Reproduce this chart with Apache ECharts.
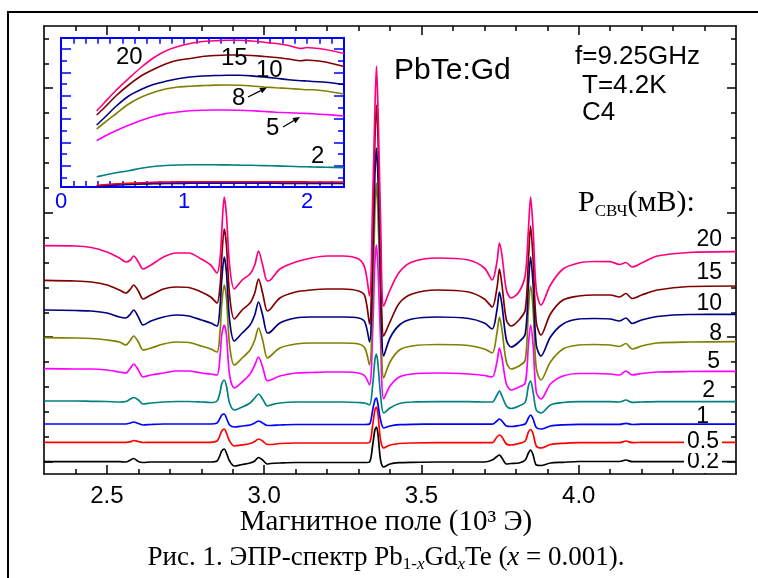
<!DOCTYPE html>
<html><head><meta charset="utf-8">
<script src="https://cdn.jsdelivr.net/npm/echarts@6.0.0/dist/echarts.min.js"></script>
<style>html,body{margin:0;padding:0;background:#fff}#c{width:758px;height:578px}</style>
</head><body><div id="c"></div>
<script>
// ---- main spectra: magnetic field (10^3 Oe) and signal (arb. units) ----
const fieldKOe = [2.30, 2.40, 2.45, 2.50, 2.54, 2.56, 2.575, 2.585, 2.60, 2.615,
  2.64, 2.68, 2.72, 2.76, 2.80, 2.83, 2.85, 2.86, 2.865, 2.873,
  2.88, 2.89, 2.905, 2.93, 2.955, 2.97, 2.982, 2.995, 3.01, 3.02,
  3.05, 3.10, 3.15, 3.20, 3.25, 3.30, 3.32, 3.335, 3.345, 3.352,
  3.357, 3.362, 3.37, 3.38, 3.40, 3.43, 3.47, 3.55, 3.65, 3.70,
  3.725, 3.74, 3.748, 3.756, 3.77, 3.785, 3.81, 3.83, 3.84, 3.847,
  3.855, 3.865, 3.88, 3.91, 3.95, 4.00, 4.05, 4.10, 4.13, 4.15,
  4.17, 4.20, 4.25, 4.35, 4.50];

const p20 = [228.3, 228, 226.5, 222, 216, 212, 214, 218, 212, 205,
  209, 217, 221, 221, 215, 209, 201, 216, 242, 277,
  259, 209, 185, 194, 200, 209, 223, 209, 193, 194,
  205, 212, 216, 218, 218, 215, 206, 178, 274, 364,
  408, 364, 254, 168, 184, 202, 212, 216, 214, 206,
  194, 212, 231, 219, 184, 176, 182, 199, 244, 277,
  244, 184, 169, 189, 205, 211, 212.5, 212.3, 209.5, 211.5,
  207, 211, 218, 221.5, 222.3];
const p15 = [193.7, 193, 192, 189, 184, 181, 185, 189, 183, 175,
  179, 185, 187, 186.5, 182, 177, 171, 189, 216, 245,
  229, 179, 155, 164, 171, 181, 195, 181, 163, 165,
  176, 182, 184, 185, 185, 183, 178, 150, 244, 334,
  369, 334, 224, 138, 152, 171, 180, 184, 182, 175,
  167, 186, 205, 189, 154, 148, 154, 164, 214, 248,
  214, 152, 139, 160, 174, 178, 179, 179, 177, 180.5,
  175.5, 179, 184, 187.5, 188];
const p10 = [164, 163.5, 163, 161, 157, 156, 160, 164, 157, 149,
  153, 157, 159, 158, 154, 151, 148, 169, 194, 217,
  202, 154, 133, 141, 149, 159, 172, 159, 141, 142,
  151, 156, 157, 157, 157, 156, 152, 132, 214, 299,
  326, 294, 194, 118, 136, 149, 155, 157, 155.5, 151,
  145, 164, 182, 169, 134, 127, 132, 140, 189, 217,
  189, 129, 118, 137, 150, 155, 155.5, 155, 153, 156,
  150.5, 154, 157.5, 159.5, 159.7];
const p8 = [136.3, 136, 135.5, 134, 132, 129, 134, 138, 132, 124,
  126, 130, 132, 131.5, 128, 125, 122, 144, 169, 189,
  176, 129, 109, 116, 124, 134, 146, 134, 116, 118,
  126, 130, 131, 131, 131, 130, 126, 109, 174, 264,
  291, 259, 174, 96, 112, 124, 128, 129.5, 128.5, 125,
  121, 141, 157, 144, 112, 105, 108, 114, 164, 188,
  164, 106, 94, 112, 125, 129, 129.5, 129, 127.5, 130.5,
  125, 128, 131, 132, 132.3];
const p5 = [105.3, 105, 105, 104, 102, 101, 106, 110, 104, 97,
  99, 101, 103, 103, 101, 100, 99, 119, 139, 149,
  139, 99, 86, 92, 100, 109, 117, 107, 93, 94,
  98, 101, 101.5, 102, 102, 101, 98, 89, 144, 212,
  229, 204, 134, 75, 88, 97, 100, 101, 100, 98.5,
  97, 112, 126, 116, 90, 84, 87, 91, 129, 149,
  129, 82, 75, 90, 98, 100.5, 100.5, 100, 99, 103,
  99, 100.5, 102, 102.5, 102.7];
const p2 = [73, 73, 72.7, 72.5, 72, 72.5, 75, 76.5, 74, 70,
  71, 72, 72.5, 72.5, 72, 71.5, 73, 82, 90, 94,
  88, 71, 64, 67, 71, 76, 80, 75, 68, 69,
  71, 72, 72, 72, 72, 71.5, 71, 69, 89, 114,
  120, 109, 79, 61, 66, 70.5, 72, 72.3, 72.3, 72,
  72, 79, 83, 78, 68, 65.5, 68, 72, 88, 93,
  82, 64, 61, 69, 71.5, 72.3, 72.3, 72.3, 72, 74,
  71.7, 72, 72.3, 72.3, 72.3];
const p1 = [50, 50, 50, 50, 50, 50, 51, 52, 50.5, 49,
  49.5, 50, 50, 50, 50, 50, 51, 56, 59, 60,
  56, 49, 47, 48, 49, 51, 53, 51, 48.5, 48.5,
  49, 49.5, 49.5, 49.5, 49.5, 49.5, 49.5, 50, 64, 74,
  76, 69, 54, 46, 48, 49.3, 49.7, 49.8, 49.8, 49.8,
  49.8, 53, 55, 53, 48, 47.5, 48.5, 50, 56, 59,
  55, 46.5, 45, 48, 49.2, 49.7, 49.7, 49.7, 49.7, 50.7,
  49.5, 49.8, 49.8, 49.8, 49.8];
const p05 = [31.7, 31.7, 31.7, 31.7, 31.7, 31.7, 32.3, 33.5, 32.5, 31.5,
  31.7, 31.7, 31.7, 31.7, 31.7, 31.7, 33, 39, 43, 45,
  41, 33, 28, 29, 30.5, 32.5, 35, 33, 29.5, 29.5,
  30.5, 31, 31, 31, 31, 31, 31, 31.5, 49, 64,
  67, 59, 34, 26, 29, 30.5, 31, 31.3, 31.3, 31.3,
  31.3, 37, 39, 37, 30, 29, 30.5, 33, 42, 44.5,
  40, 28, 26, 29.5, 30.7, 31.3, 31.3, 31.3, 31.3, 33,
  31.3, 31.7, 31.7, 31.7, 31.7];
const p02 = [12.3, 12.3, 12.3, 12.3, 12.3, 12, 14, 15.5, 12.5, 11.5,
  12, 12, 12, 12, 12, 12, 13, 19, 23, 25,
  21, 13, 8, 9.5, 11, 13, 16.5, 14, 10, 10.5,
  11, 11.5, 11.5, 11.5, 11.5, 11.5, 11.5, 12, 29, 44,
  47, 39, 14, 7, 10, 11.3, 11.7, 12, 12, 12,
  14, 17.5, 19, 16, 10, 10.5, 11, 14, 21, 24,
  19, 9, 8.5, 11, 11.7, 12.5, 12.5, 12.5, 12.5, 14,
  12.3, 12.3, 12.3, 12.3, 12.3];

// ---- inset: signal vs microwave power (arb.) ----
const insetX = [0.29, 0.35, 0.45, 0.55, 0.65, 0.75, 0.85, 0.95, 1.05, 1.15, 1.25,
  1.35, 1.45, 1.55, 1.65, 1.75, 1.85, 1.95, 2.0, 2.05, 2.15, 2.3];
const in20 = [76, 84, 97, 108.5, 119.5, 129, 136, 140.5, 143.5, 145.5, 146.2,
  146.8, 146.8, 146, 144.7, 143.5, 141.5, 138.5, 139.5, 139, 137.5, 133.5];
const in15 = [72, 79, 91.5, 102, 111, 117.5, 123, 126.7, 128.5, 130.5, 131.5,
  132, 132, 131.5, 130.5, 129.5, 128, 126.3, 127, 126.5, 125, 120.5];
const in10 = [62, 69, 81, 91, 97.5, 102.5, 105.7, 108.2, 110, 111, 111.5,
  111.8, 111.7, 111.1, 110, 108.7, 107.3, 106.3, 106, 105.5, 104.7, 102.5];
const in8 = [58, 64, 73.5, 83, 89.7, 94.5, 98, 100, 100.8, 101.4, 101.9,
  102, 101.7, 101, 100, 99.2, 98.5, 97.7, 97.3, 97.2, 96, 93];
const in5 = [46.3, 50.5, 56.5, 61.7, 66.5, 70.5, 73.4, 75, 76.2, 76.8, 77,
  77, 76.7, 76.2, 75.5, 74.8, 74.2, 73.7, 73.5, 73.2, 72.5, 71];
const in2 = [10.3, 11.8, 14.2, 16.3, 18.7, 20.5, 21.5, 22, 22.2, 22.3, 22.2,
  22.1, 21.9, 21.7, 21.4, 21.1, 20.7, 20.3, 20.2, 20, 19.8, 19.3];
const in1 = [1, 1.6, 2.4, 3, 3.4, 3.7, 3.9, 4, 4.1, 4.1, 4.1,
  4.1, 4.1, 4.1, 4.1, 4, 4, 4, 4, 4, 4, 4];
const in05 = [1.5, 2.3, 3.2, 3.8, 4.3, 4.7, 5, 5.2, 5.2, 5.2, 5.2,
  5.2, 5.2, 5.2, 5.2, 5.2, 5.1, 5.1, 5.1, 5, 5, 5];
const in02 = [0.8, 1.3, 2, 2.6, 3, 3.3, 3.5, 3.6, 3.7, 3.7, 3.7,
  3.7, 3.7, 3.7, 3.7, 3.7, 3.6, 3.6, 3.6, 3.6, 3.6, 3.6];

// ---- labels and ticks ----
const powerLabels = ['0.2', '0.5', '1', '2', '5', '8', '10', '15', '20'];
const traceColors = ['#000000', '#FF0000', '#0000FF', '#008080', '#FF00FF', '#808000', '#000080', '#800000', '#FF0080'];
const xMajorTicks = [2.5, 3.0, 3.5, 4.0];
const xMinorTicks = [2.4, 2.6, 2.7, 2.8, 2.9, 3.1, 3.2, 3.3, 3.4, 3.6, 3.7, 3.8, 3.9, 4.1, 4.2, 4.3, 4.4];
const yMajorTicks = [12.4, 136.9, 261.3, 385.8];
const yMinorTicks = [37.3, 62.2, 87.1, 112.0, 161.7, 186.6, 211.5, 236.4, 286.2, 311.1, 336.0, 360.9, 410.6, 435.5];
const insetXLabels = [0, 1, 2];
const insetXTicks = [0.1, 0.2, 0.3, 0.4, 0.5, 0.6, 0.7, 0.8, 0.9, 1.0, 1.1, 1.2, 1.3, 1.4, 1.5, 1.6, 1.7, 1.8, 1.9, 2.0, 2.1, 2.2];
const insetYLong = [21.4, 44.7, 68.0, 91.4, 114.7, 138.0];
const insetYShort = [9.7, 33.0, 56.4, 79.7, 103.0, 126.3];

const SANS = "'Liberation Sans', Arial, Helvetica, sans-serif";
const SERIF = "'Liberation Serif', 'Times New Roman', serif";

const mainTraces = [p02, p05, p1, p2, p5, p8, p10, p15, p20];
const insetTraces = [in02, in1, in05, in2, in5, in8, in10, in15, in20];
const insetColors = ['#000000', '#0000FF', '#FF0000', '#008080', '#FF00FF', '#808000', '#000080', '#800000', '#FF0080'];

const blue = '#0000FF';

function tickAxis(grid, pos, vals, len, color, lineShow, extra) {
  return Object.assign({
    gridIndex: grid, type: 'value', position: pos,
    axisLine: { show: lineShow, onZero: false, lineStyle: { color: color, width: color === blue ? 2 : 1.6 } },
    axisTick: { show: true, inside: true, length: len, customValues: vals, lineStyle: { color: color, width: 1.5 } },
    axisLabel: { show: false },
    splitLine: { show: false }
  }, extra);
}

const xAxes = [
  tickAxis(0, 'bottom', xMajorTicks, 9, '#000', true, {
    min: 2.3, max: 4.5,
    axisLabel: { show: true, customValues: xMajorTicks, formatter: v => v.toFixed(1), fontSize: 24, color: '#000', fontFamily: SANS, margin: 10 }
  }),
  tickAxis(0, 'top', xMajorTicks, 9, '#000', true, { min: 2.3, max: 4.5 }),
  tickAxis(1, 'bottom', xMinorTicks, 5, '#000', false, { min: 2.3, max: 4.5 }),
  tickAxis(1, 'top', xMinorTicks, 5, '#000', false, { min: 2.3, max: 4.5 }),
  tickAxis(2, 'bottom', insetXTicks, 6, blue, true, {
    min: 0, max: 2.3,
    axisLabel: { show: true, customValues: insetXLabels, formatter: v => String(v), fontSize: 22, color: blue, fontFamily: SANS, margin: 4 }
  }),
  tickAxis(2, 'top', insetXTicks, 6, blue, true, { min: 0, max: 2.3 }),
  tickAxis(3, 'bottom', [], 1, blue, false, { min: 0, max: 2.3, show: false })
];
const yAxes = [
  tickAxis(0, 'left', yMajorTicks, 9, '#000', true, { min: 0, max: 448 }),
  tickAxis(0, 'right', yMajorTicks, 9, '#000', true, { min: 0, max: 448 }),
  tickAxis(1, 'left', yMinorTicks, 5, '#000', false, { min: 0, max: 448 }),
  tickAxis(1, 'right', yMinorTicks, 5, '#000', false, { min: 0, max: 448 }),
  tickAxis(2, 'left', insetYLong, 10, blue, true, { min: 0, max: 149.3 }),
  tickAxis(2, 'right', insetYLong, 10, blue, true, { min: 0, max: 149.3 }),
  tickAxis(3, 'left', insetYShort, 6, blue, false, { min: 0, max: 149.3 }),
  tickAxis(3, 'right', insetYShort, 6, blue, false, { min: 0, max: 149.3 })
];

const series = [];
mainTraces.forEach((ys, i) => {
  series.push({
    name: powerLabels[i], type: 'line', xAxisIndex: 0, yAxisIndex: 0,
    data: fieldKOe.map((x, j) => [x, ys[j]]),
    showSymbol: false, smooth: 0.3, silent: true,
    lineStyle: { color: traceColors[i], width: 1.7 }, z: 2 + i * 0.01
  });
});
insetTraces.forEach((ys, i) => {
  series.push({
    type: 'line', xAxisIndex: 4, yAxisIndex: 4,
    data: insetX.map((x, j) => [x, ys[j]]),
    showSymbol: false, smooth: 0.3, silent: true,
    lineStyle: { color: insetColors[i], width: 1.6 }, z: 3
  });
});

function txt(x, y, text, size, align, family, extra) {
  return { type: 'text', x: x, y: y, z: 100, silent: true,
    style: Object.assign({ text: text, font: size + 'px ' + (family || SANS), fill: '#000', textAlign: align || 'left', textVerticalAlign: 'middle' }, extra || {}) };
}
function arrow(x1, y1, x2, y2) {
  const a = Math.atan2(y2 - y1, x2 - x1), L = 7, W = 3;
  const bx = x2 - L * Math.cos(a), by = y2 - L * Math.sin(a);
  return [
    { type: 'line', z: 100, silent: true, shape: { x1: x1, y1: y1, x2: bx, y2: by }, style: { stroke: '#000', lineWidth: 1.3 } },
    { type: 'polygon', z: 100, silent: true, shape: { points: [[x2, y2], [bx - W * Math.sin(a), by + W * Math.cos(a)], [bx + W * Math.sin(a), by - W * Math.cos(a)]] }, style: { fill: '#000' } }
  ];
}

const rightLabelPos = [[722, 461.5], [722, 441.5], [709, 416.5], [715, 391], [720, 361.5], [722, 333.5], [722, 303.5], [722, 272.5], [722, 240]];
const graphics = [
  { type: 'polyline', z: 100, silent: true, shape: { points: [[8, 578], [8, 12], [758, 12]] }, style: { stroke: '#000', lineWidth: 2, fill: null } },
  txt(394, 71, 'PbTe:Gd', 30),
  txt(575, 57, 'f=9.25GHz', 26),
  txt(582, 86, 'T=4.2K', 26),
  txt(582, 113, 'C4', 26),
  { type: 'text', x: 578, y: 203, z: 100, silent: true, style: {
    text: '{a|P}{b|СВЧ}{a|(мВ):}', textAlign: 'left', textVerticalAlign: 'middle',
    rich: { a: { font: '30px ' + SERIF, fill: '#000' }, b: { font: '17px ' + SERIF, fill: '#000', padding: [17, 0, 0, 0] } } } },
  // inset labels
  txt(116, 57, '20', 24), txt(221, 58, '15', 24), txt(256, 70, '10', 24),
  txt(232, 98.5, '8', 24), txt(266, 128.5, '5', 24), txt(311, 156.5, '2', 24),
  ...arrow(248, 97, 267, 87.5),
  ...arrow(283, 127, 300, 117),
  // axis title and caption
  txt(386, 522, 'Магнитное поле (10³ Э)', 29, 'center', SERIF),
  { type: 'text', x: 386, y: 558, z: 100, silent: true, style: {
    text: '{n|Рис. 1. ЭПР-спектр Pb}{s|1-}{si|x}{n|Gd}{si|x}{n|Te (}{i|x}{n| = 0.001).}', textAlign: 'center', textVerticalAlign: 'middle',
    rich: {
      n: { font: '27px ' + SERIF, fill: '#000' },
      i: { font: 'italic 27px ' + SERIF, fill: '#000' },
      s: { font: '17px ' + SERIF, fill: '#000', padding: [14, 0, 0, 0] },
      si: { font: 'italic 17px ' + SERIF, fill: '#000', padding: [14, 0, 0, 0] }
    } } }
];
powerLabels.forEach((lab, i) => {
  const extra = (lab === '0.5' || lab === '0.2') ? { backgroundColor: '#fff', padding: [0, 3, 0, 3] } : {};
  graphics.push(txt(rightLabelPos[i][0], rightLabelPos[i][1], lab, 23, 'right', SANS, extra));
});

const chart = echarts.init(document.getElementById('c'), null, { renderer: 'canvas' });
chart.setOption({
  animation: false,
  backgroundColor: '#fff',
  grid: [
    { left: 44, top: 26, width: 692, height: 448, show: false },
    { left: 44, top: 26, width: 692, height: 448, show: false },
    { left: 61, top: 37.7, width: 283, height: 149.3, show: true, backgroundColor: '#fff', borderWidth: 0 },
    { left: 61, top: 37.7, width: 283, height: 149.3, show: false }
  ],
  xAxis: xAxes,
  yAxis: yAxes,
  series: series,
  graphic: graphics
});
</script></body></html>
